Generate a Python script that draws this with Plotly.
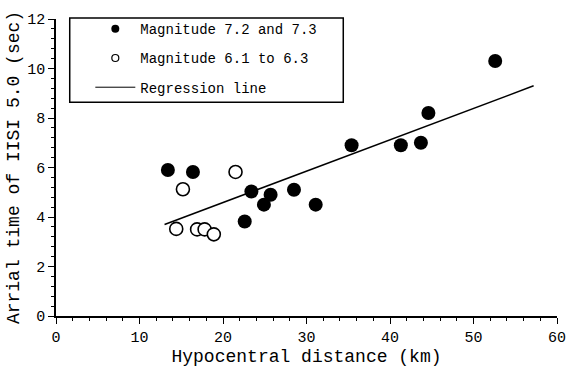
import plotly.graph_objects as go

# Data
big_x = [13.4, 16.4, 22.6, 23.4, 24.9, 25.7, 28.5, 31.1, 35.4, 41.3, 43.7, 44.6, 52.6]
big_y = [5.90, 5.82, 3.82, 5.03, 4.50, 4.90, 5.10, 4.50, 6.90, 6.90, 7.00, 8.20, 10.30]

small_x = [14.4, 15.2, 16.9, 17.8, 18.9, 21.5]
small_y = [3.52, 5.12, 3.50, 3.50, 3.30, 5.82]

reg_x = [13.0, 57.2]
reg_y = [3.70, 9.30]

legend_names = ["Magnitude 7.2 and 7.3", "Magnitude 6.1 to 6.3", "Regression line"]

FONT = "Liberation Mono"

fig = go.Figure()
# Data traces (not in legend)
fig.add_trace(go.Scatter(
    x=big_x, y=big_y, mode="markers", showlegend=False,
    marker=dict(symbol="circle", size=14, color="black", line=dict(width=0)),
))
fig.add_trace(go.Scatter(
    x=small_x, y=small_y, mode="markers", showlegend=False,
    marker=dict(symbol="circle", size=13, color="white", line=dict(width=1.6, color="black")),
))
fig.add_trace(go.Scatter(
    x=reg_x, y=reg_y, mode="lines", showlegend=False,
    line=dict(color="black", width=1.5),
))
# Legend entries (small symbols as in the reference)
fig.add_trace(go.Scatter(
    x=[None], y=[None], mode="markers", name=legend_names[0], legendgroup="a",
    marker=dict(symbol="circle", size=8, color="black", line=dict(width=0)),
))
fig.add_trace(go.Scatter(
    x=[None], y=[None], mode="markers", name=legend_names[1], legendgroup="b",
    marker=dict(symbol="circle", size=7, color="white", line=dict(width=1.2, color="black")),
))
fig.add_trace(go.Scatter(
    x=[None], y=[None], mode="lines", name=legend_names[2], legendgroup="c",
    line=dict(color="black", width=1),
))

axis_common = dict(
    showgrid=False, zeroline=False, showline=True, linecolor="black", linewidth=1.5,
    ticks="outside", ticklen=6, tickwidth=1.2, tickcolor="black",
    tickfont=dict(family=FONT, size=15, color="black"),
    mirror=False,
)

fig.update_xaxes(
    range=[0, 60], tick0=0, dtick=10,
    minor=dict(ticks="outside", ticklen=3, dtick=2, tickcolor="black", tickwidth=1),
    title=dict(text="Hypocentral distance (km)", font=dict(family=FONT, size=18, color="black"), standoff=4),
    **axis_common,
)
fig.update_yaxes(
    range=[0, 12], tick0=0, dtick=2,
    minor=dict(ticks="outside", ticklen=3, dtick=0.4, tickcolor="black", tickwidth=1),
    title=dict(text="Arrial time of IISI 5.0 (sec)", font=dict(family=FONT, size=18, color="black"), standoff=3),
    **axis_common,
)

# Legend frame
fig.add_shape(
    type="rect", xref="paper", yref="paper",
    x0=0.0274, x1=0.5734, y0=0.720, y1=1.0033,
    line=dict(color="black", width=1.5), fillcolor="white", layer="above",
)

fig.update_layout(
    width=578, height=375,
    margin=dict(l=55, r=12, t=15, b=53),
    paper_bgcolor="white", plot_bgcolor="white",
    showlegend=True,
    legend=dict(
        x=0.0685, y=1.0195, xanchor="left", yanchor="top",
        bgcolor="rgba(0,0,0,0)", borderwidth=0,
        font=dict(family=FONT, size=14, color="black"),
        traceorder="grouped", tracegroupgap=8,
        itemwidth=40,
    ),
)

fig.write_html("out.html")
